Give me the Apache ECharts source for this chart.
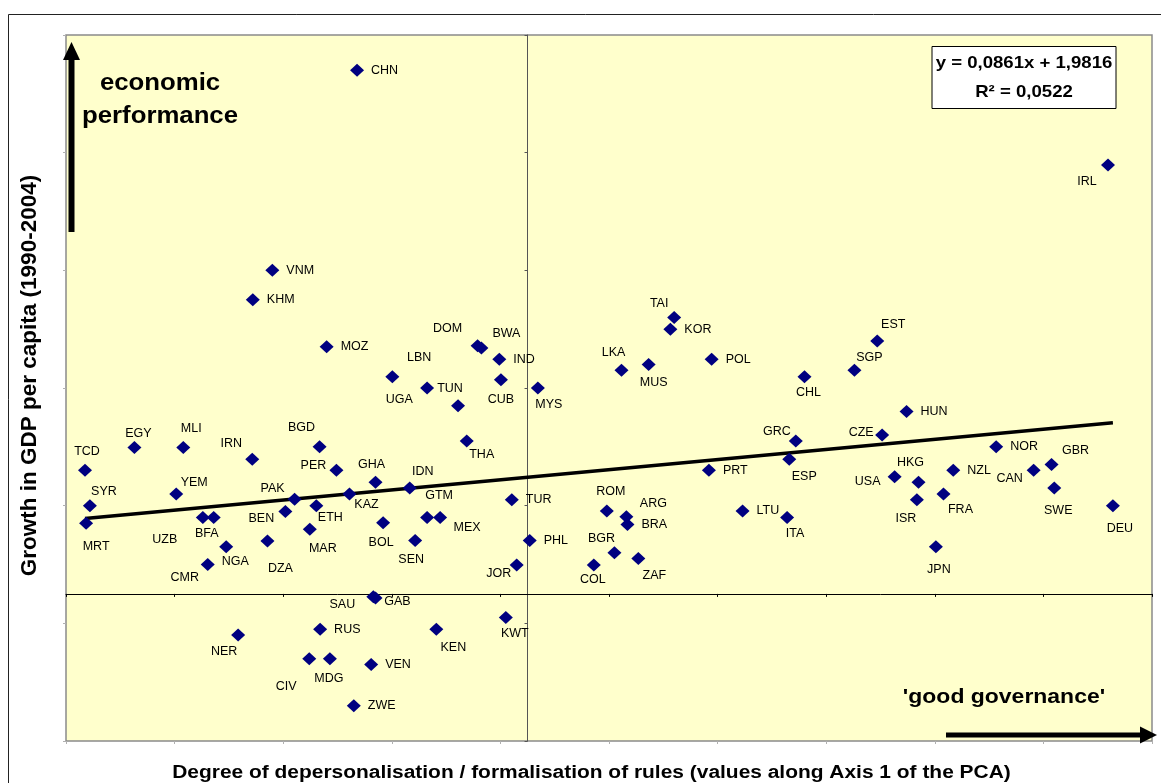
<!DOCTYPE html>
<html>
<head>
<meta charset="utf-8">
<script src="https://cdn.jsdelivr.net/npm/echarts@6/dist/echarts.min.js"></script>
<style>
html,body{margin:0;padding:0;background:#fff;}
#chart{width:1161px;height:783px;}
</style>
</head>
<body>
<div id="chart"></div>
<script>
// ---- data ----
const countries = ['CHN','IRL','VNM','KHM','MOZ','DOM','BWA','IND','CUB','UGA','LBN','TUN','MYS','THA','BGD','PER','GHA','IDN','KAZ','PAK','ETH','BEN','MAR','TUR','GTM','MEX','BOL','SEN','PHL','JOR','SAU','GAB','NER','RUS','KEN','KWT','CIV','MDG','VEN','ZWE','TCD','EGY','MLI','IRN','SYR','YEM','MRT','UZB','BFA','NGA','DZA','CMR','TAI','KOR','LKA','MUS','POL','CHL','GRC','ESP','PRT','ROM','ARG','BRA','LTU','ITA','BGR','COL','ZAF','EST','SGP','HUN','CZE','NOR','GBR','CAN','USA','HKG','NZL','ISR','FRA','SWE','DEU','JPN'];
const governance = [-3.14,10.69,-4.70,-5.06,-3.70,-0.92,-0.85,-0.52,-0.49,-2.49,-1.85,-1.28,0.19,-1.12,-3.83,-3.52,-2.80,-2.17,-3.28,-4.29,-3.89,-4.46,-4.01,-0.29,-1.85,-1.61,-2.66,-2.07,0.04,-0.20,-2.84,-2.80,-5.33,-3.82,-1.68,-0.40,-4.02,-3.64,-2.88,-3.20,-8.15,-7.24,-6.34,-5.07,-8.06,-6.47,-8.13,-5.98,-5.78,-5.55,-4.79,-5.89,2.70,2.63,1.73,2.23,3.39,5.10,4.94,4.82,3.34,1.46,1.82,1.84,3.96,4.78,1.60,1.22,2.04,6.44,6.02,6.98,6.53,8.63,9.65,9.32,6.76,7.20,7.84,7.17,7.66,9.70,10.78,7.52];
const growth = [8.90,7.29,5.50,5.00,4.20,4.22,4.18,3.99,3.64,3.69,3.50,3.20,3.50,2.60,2.50,2.10,1.90,1.80,1.70,1.61,1.50,1.40,1.10,1.60,1.30,1.30,1.21,0.91,0.91,0.49,-0.05,-0.07,-0.70,-0.60,-0.60,-0.40,-1.10,-1.10,-1.20,-1.90,2.10,2.49,2.49,2.29,1.50,1.70,1.20,1.30,1.30,0.80,0.90,0.50,4.70,4.50,3.80,3.90,3.99,3.69,2.60,2.29,2.10,1.41,1.31,1.18,1.41,1.30,0.70,0.49,0.60,4.30,3.80,3.10,2.70,2.50,2.20,2.10,1.99,1.90,2.10,1.60,1.70,1.80,1.50,0.80];
const trendSlope = 0.0861;
const trendIntercept = 1.9816;
const rSquared = '0,0522';
const xAxisMin = -8.5, xAxisMax = 11.5, yAxisMin = -2.5, yAxisMax = 9.5, tickStep = 2;

// ---- label placement (style only) ----
const labelPlacement = {
  CHN:'r', IRL:[-21,17], VNM:'r', KHM:'r', MOZ:'r', DOM:[-30,-17], BWA:[25,-14], IND:'r', CUB:[0,20],
  UGA:[7,23], LBN:[-8,-30], TUN:[-8,-17], MYS:[11,17], THA:[15,14], BGD:[-18,-19], PER:[-23,-5],
  GHA:[-4,-18], IDN:[13,-16], KAZ:[17,11], PAK:[-22,-11], ETH:[14,12], BEN:[-24,7], MAR:[13,19],
  TUR:'r', GTM:[12,-22], MEX:[27,10], BOL:[-2,20], SEN:[-4,19], PHL:'r', JOR:[-18,8], GAB:[22,4],
  SAU:[-31,8], NER:[-14,16], RUS:'r', KEN:[17,18], KWT:[9,16], CIV:[-23,28], MDG:[-1,20], VEN:'r',
  ZWE:'r', TCD:[2,-19], EGY:[4,-14], MLI:[8,-19], IRN:[-21,-16], SYR:[14,-14], YEM:[18,-11],
  MRT:[10,23], UZB:[-38,22], BFA:[-7,16], NGA:[9,15], DZA:[13,28], CMR:[-23,13], TAI:[-15,-14],
  KOR:'r', LKA:[-8,-18], MUS:[5,18], POL:'r', CHL:[4,16], GRC:[-19,-9], ESP:[15,17], PRT:'r',
  ROM:[4,-19], ARG:[27,-13], BRA:'r', LTU:'r', ITA:[8,16], BGR:[-13,-14], COL:[-1,14], ZAF:[16,17],
  EST:[16,-16], SGP:[15,-13], HUN:'r', CZE:[-21,-3], NOR:'r', GBR:[24,-14], CAN:[-24,8], USA:[-27,5],
  HKG:[-8,-20], NZL:'r', ISR:[-11,19], FRA:[17,16], SWE:[4,23], DEU:[7,23], JPN:[3,23]
};
function labelFor(c){
  const p = labelPlacement[c];
  if (!p || p === 'r') return {position:'right', distance:7};
  return {position:'inside', offset:p};
}

const FONT = "'Liberation Sans', Arial, sans-serif";
const points = countries.map((c,i)=>({name:c, value:[governance[i], growth[i]], label:labelFor(c)}));
const xMinData = Math.min(...governance), xMaxData = Math.max(...governance);
const trend = [[xMinData, trendSlope*xMinData+trendIntercept],[xMaxData, trendSlope*xMaxData+trendIntercept]];

const chart = echarts.init(document.getElementById('chart'), null, {renderer:'canvas'});
const SX = 1.12;
const option = {
  animation:false,
  backgroundColor:'#ffffff',
  grid:{left:66, right:9, top:35, bottom:42, show:true, backgroundColor:'#FFFFCC', borderColor:'#8a8a8a', borderWidth:1.5, containLabel:false, outerBoundsMode:'none'},
  xAxis:[
    {type:'value', min:xAxisMin, max:xAxisMax, interval:tickStep, position:'bottom',
     axisLine:{show:true, onZero:true, lineStyle:{color:'#000', width:1}},
     axisTick:{show:true, length:3, inside:false, lineStyle:{color:'#000'}},
     axisLabel:{show:false}, splitLine:{show:false}},
    {type:'value', min:xAxisMin, max:xAxisMax, interval:tickStep, position:'bottom',
     axisLine:{show:false, onZero:false},
     axisTick:{show:true, length:3, lineStyle:{color:'#b0b0b0'}},
     axisLabel:{show:false}, splitLine:{show:false}}
  ],
  yAxis:[
    {type:'value', min:yAxisMin, max:yAxisMax, interval:tickStep, position:'left',
     axisLine:{show:true, onZero:true, lineStyle:{color:'#555', width:1}},
     axisTick:{show:true, length:3, inside:false, lineStyle:{color:'#555'}},
     axisLabel:{show:false}, splitLine:{show:false}},
    {type:'value', min:yAxisMin, max:yAxisMax, interval:tickStep, position:'left',
     axisLine:{show:false, onZero:false},
     axisTick:{show:true, length:3, lineStyle:{color:'#b0b0b0'}},
     axisLabel:{show:false}, splitLine:{show:false}}
  ],
  series:[
    {type:'line', data:trend, xAxisIndex:0, yAxisIndex:0, symbol:'none', silent:true,
     lineStyle:{color:'#000', width:3.5}, z:3},
    {type:'scatter', data:points, xAxisIndex:0, yAxisIndex:0, symbol:'diamond', symbolSize:[14,13],
     itemStyle:{color:'#000080', opacity:1}, z:4,
     label:{show:true, formatter:'{b}', color:'#000', fontSize:12.5, fontFamily:FONT}}
  ],
  graphic:[
    {type:'rect', z:100, silent:true, shape:{x:8.5, y:14.5, width:1170, height:820}, style:{fill:'none', stroke:'#222', lineWidth:1}},
    // vertical arrow
    {type:'rect', z:100, shape:{x:68.5, y:58, width:6, height:174}, style:{fill:'#000'}},
    {type:'polygon', z:100, shape:{points:[[63,60],[80,60],[71.5,42]]}, style:{fill:'#000'}},
    // horizontal arrow
    {type:'rect', z:100, shape:{x:946, y:732.5, width:196, height:5}, style:{fill:'#000'}},
    {type:'polygon', z:100, shape:{points:[[1140,726.5],[1140,743.5],[1157,735]]}, style:{fill:'#000'}},
    // annotations
    {type:'text', z:100, x:160, y:100, scaleX:SX, style:{text:'economic\nperformance', x:0, y:0, align:'center', verticalAlign:'middle', font:'bold 23px '+FONT, lineHeight:33, fill:'#000'}},
    {type:'text', z:100, x:1004, y:697, scaleX:SX, style:{text:"'good governance'", x:0, y:0, align:'center', verticalAlign:'middle', font:'bold 20.5px '+FONT, fill:'#000'}},
    // equation box
    {type:'rect', z:100, shape:{x:932, y:46.5, width:184, height:62}, style:{fill:'#fff', stroke:'#000', lineWidth:1}},
    {type:'text', z:101, x:1024, y:63.5, scaleX:SX, style:{text:'y = ' + String(trendSlope).replace('.',',') + 'x + ' + String(trendIntercept).replace('.',','), x:0, y:0, align:'center', verticalAlign:'middle', font:'bold 16.6px '+FONT, fill:'#000'}},
    {type:'text', z:101, x:1024, y:92, scaleX:SX, style:{text:'R² = ' + rSquared, x:0, y:0, align:'center', verticalAlign:'middle', font:'bold 16.6px '+FONT, fill:'#000'}},
    // axis titles
    {type:'text', z:100, x:591.5, y:782, scaleX:SX, style:{text:'Degree of depersonalisation / formalisation of rules (values along Axis 1 of the PCA)', x:0, y:0, align:'center', verticalAlign:'bottom', font:'bold 18.7px '+FONT, fill:'#000'}},
    {type:'text', z:100, x:30, y:375.5, rotation:Math.PI/2, style:{text:'Growth in GDP per capita (1990-2004)', x:0, y:0, align:'center', verticalAlign:'middle', font:'bold 22.5px '+FONT, fill:'#000'}}
  ]
};
chart.setOption(option);
</script>
</body>
</html>
